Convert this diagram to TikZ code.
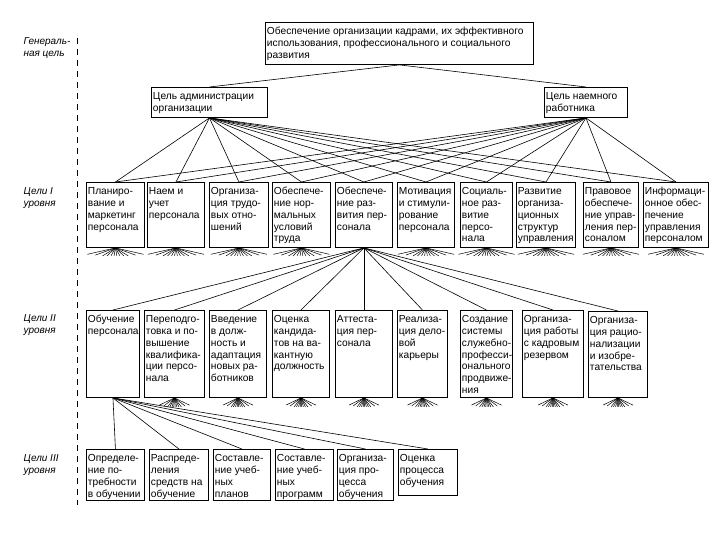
\documentclass[tikz,border=0pt]{standalone}
\usepackage{fontspec}
\setmainfont{Liberation Sans}
\usetikzlibrary{positioning}

\tikzset{
  goal/.style={draw, line width=0.9pt, inner xsep=1.5pt, inner ysep=3.5pt, anchor=north west,
    font=\fontsize{10.2}{11.7}\selectfont},
  link/.style={line width=0.6pt},
  rootline/.style={line width=0.5pt},
  lvl/.style={anchor=north west, align=left, font=\fontsize{10}{12.5}\selectfont\itshape}
}

% name, x1, y1, x2, y2, text
\newcommand\goalbox[6]{%
  \node[goal] (#1) at (#2,#3)
    {\parbox[t][\dimexpr#5pt-#3pt-7pt\relax][t]{\dimexpr#4pt-#2pt-3pt\relax}{%
      \raggedright\hyphenpenalty=10000 \exhyphenpenalty=10000 \hbadness=10000 \hfuzz=20pt
      \rule{0pt}{9pt}#6}};}

% node, half width, depth
\newcommand\roots[3]{%
  \foreach \f/\d in {-1/0.8,-0.72/0.9,-0.46/1,-0.3/1,-0.16/1,-0.05/1,0.05/1,0.16/1,0.3/1,0.46/1,0.72/0.9,1/0.8}
    {\draw[rootline] (#1.south) -- ++(\f*#2,\d*#3);}}

\begin{document}
\begin{tikzpicture}[x=1pt,y=-1pt]

\path[use as bounding box, fill=white] (0,0) rectangle (720,540);

% levels on the left
\node[lvl] (lv0) at (20,34) {Генераль-\\ная цель};
\node[lvl] (lv1) at (20,184) {Цели I\\уровня};
\node[lvl] (lv2) at (20,311) {Цели II\\уровня};
\node[lvl] (lv3) at (20,451) {Цели III\\уровня};
\draw[line width=1pt, dash pattern=on 6pt off 5pt] (77,38) coordinate (d1) -- (77,505) coordinate (d2);

% general goal
\goalbox{top}{265}{22}{533}{64}{Обеспечение организации кадрами, их эффективного\\использования, профессионального и социального\\развития}
\goalbox{adm}{151}{87}{267}{117}{Цель администрации\\организации}
\goalbox{wrk}{544}{87}{627}{117}{Цель наемного\\работника}

% goals of level I
\goalbox{l1a}{86}{182}{144}{247}{Планиро-\\вание и\\маркетинг\\персонала}
\goalbox{l1b}{147}{182}{204}{247}{Наем и\\учет\\персонала}
\goalbox{l1c}{209}{182}{268}{247}{Организа-\\ция трудо-\\вых отно-\\шений}
\goalbox{l1d}{272}{182}{330}{247}{Обеспече-\\ние нор-\\мальных\\условий\\труда}
\goalbox{l1e}{335}{182}{392}{247}{Обеспече-\\ние раз-\\вития пер-\\сонала}
\goalbox{l1f}{397}{182}{454}{247}{Мотивация\\и стимули-\\рование\\персонала}
\goalbox{l1g}{460}{182}{512}{247}{Социаль-\\ное раз-\\витие\\персо-\\нала}
\goalbox{l1h}{516}{182}{575}{247}{Развитие\\организа-\\ционных\\структур\\управления}
\goalbox{l1i}{583}{182}{638}{247}{Правовое\\обеспече-\\ние управ-\\ления пер-\\соналом}
\goalbox{l1j}{643}{182}{708}{247}{Информаци-\\онное обес-\\печение\\управления\\персоналом}

% goals of level II
\goalbox{l2a}{86}{310}{139}{397}{Обучение\\персонала}
\goalbox{l2b}{144}{310}{204}{397}{Переподго-\\товка и по-\\вышение\\квалифика-\\ции персо-\\нала}
\goalbox{l2c}{209}{310}{266}{397}{Введение\\в долж-\\ность и\\адаптация\\новых ра-\\ботников}
\goalbox{l2d}{272}{310}{329}{397}{Оценка\\кандида-\\тов на ва-\\кантную\\должность}
\goalbox{l2e}{335}{310}{392}{397}{Аттеста-\\ция пер-\\сонала}
\goalbox{l2f}{397}{310}{447}{397}{Реализа-\\ция дело-\\вой\\карьеры}
\goalbox{l2g}{460}{310}{512}{397}{Создание\\системы\\служебно-\\професси-\\онального\\продвиже-\\ния}
\goalbox{l2h}{522}{310}{583}{397}{Организа-\\ция работы\\с кадровым\\резервом}
\goalbox{l2i}{588}{311}{647}{397}{Организа-\\ция рацио-\\нализации\\и изобре-\\тательства}

% goals of level III
\goalbox{l3a}{86}{449}{144}{500}{Определе-\\ние по-\\требности\\в обучении}
\goalbox{l3b}{149}{449}{208}{500}{Распреде-\\ления\\средств на\\обучение}
\goalbox{l3c}{213}{449}{270}{500}{Составле-\\ние учеб-\\ных\\планов}
\goalbox{l3d}{275}{449}{333}{500}{Составле-\\ние учеб-\\ных\\программ}
\goalbox{l3e}{337}{449}{393}{500}{Организа-\\ция про-\\цесса\\обучения}
\goalbox{l3f}{398}{449}{457}{495}{Оценка\\процесса\\обучения}

% connectors
\draw[link] (top.south) -- (adm.north);
\draw[link] (top.south) -- (wrk.north);
\foreach \n in {a,...,j} {
  \draw[link] (adm.south) -- (l1\n.north);
  \draw[link] (wrk.south) -- (l1\n.north);
}
\foreach \n in {a,...,i}
  {\draw[link] (l1e.south) -- (l2\n.north);}
\foreach \n in {a,...,f}
  {\draw[link] (l2a.south) -- (l3\n.north);}

% roots under the other goals
\foreach \n in {a,b,c,d,f,g,h,i,j}
  {\roots{l1\n}{28}{8}}
\foreach \n in {b,...,i}
  {\roots{l2\n}{15}{9}}

\end{tikzpicture}
\end{document}
